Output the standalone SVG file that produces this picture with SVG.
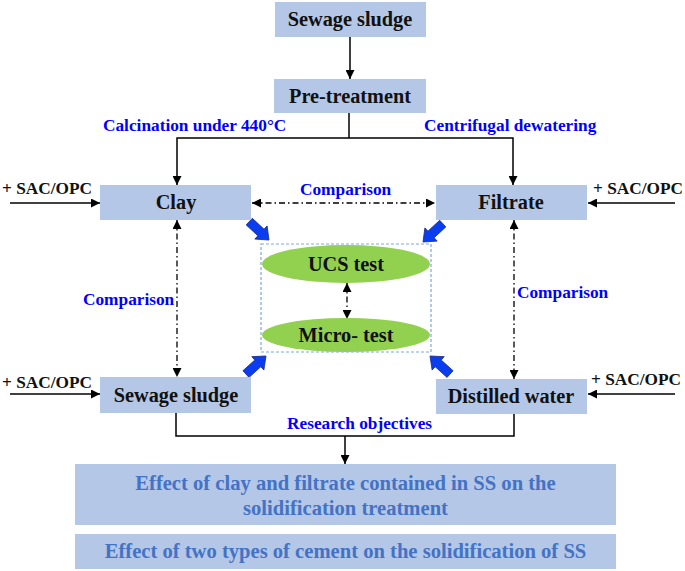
<svg xmlns="http://www.w3.org/2000/svg" xmlns:xlink="http://www.w3.org/1999/xlink" width="685" height="571" viewBox="0 0 685 571">
<style>
.box{fill:#B4C7E7;}
text{font-family:'Liberation Serif','DejaVu Serif',serif;font-weight:700;}
.t{font-size:20.3px;fill:#111;text-anchor:middle;}
.s{font-size:17.3px;fill:#111;}
.b{font-size:17.3px;fill:#0000FF;}
.o{font-size:20.6px;fill:#4472C4;text-anchor:middle;}
.ln{fill:none;stroke:#000;stroke-width:1.5;}
.dd{fill:none;stroke:#000;stroke-width:1.3;stroke-dasharray:6 3 1.5 3;}
.ell{fill:#92D050;}
.blk{fill:#0A3CF0;stroke:#1B2E8C;stroke-width:0.8;}
</style>
<defs>
<marker id="ah" viewBox="0 0 10 10" refX="10" refY="5" markerWidth="9" markerHeight="9" markerUnits="userSpaceOnUse" orient="auto-start-reverse">
<path d="M0,0 L10,5 L0,10 z" fill="#000"/>
</marker>
<path id="barrow" d="M0,0 L-11,-9 L-11,-4.5 L-27,-4.5 L-27,4.5 L-11,4.5 L-11,9 Z"/>
</defs>

<g id="connectors">
<path class="ln" d="M350,37 V79" marker-end="url(#ah)"/>
<path class="ln" d="M349,113 V138"/>
<path class="ln" d="M177,185 V138 H513 V185" marker-start="url(#ah)" marker-end="url(#ah)"/>
<path class="ln" d="M10,203 H100" marker-end="url(#ah)"/>
<path class="ln" d="M675,203 H588" marker-end="url(#ah)"/>
<path class="ln" d="M10,394 H100" marker-end="url(#ah)"/>
<path class="ln" d="M675,394 H588" marker-end="url(#ah)"/>
<path class="ln" d="M176,413 V436 H514 V414"/>
<path class="ln" d="M345,436 V464" marker-end="url(#ah)"/>
<path class="dd" d="M252,203 H435" marker-start="url(#ah)" marker-end="url(#ah)"/>
<path class="dd" d="M177,220 V377" marker-start="url(#ah)" marker-end="url(#ah)"/>
<path class="dd" d="M514,220 V379" marker-start="url(#ah)" marker-end="url(#ah)"/>
<path class="dd" d="M347,283 V319" marker-start="url(#ah)" marker-end="url(#ah)"/>
<use xlink:href="#barrow" class="blk" transform="translate(269,240) rotate(43)"/>
<use xlink:href="#barrow" class="blk" transform="translate(423,242) rotate(137)"/>
<use xlink:href="#barrow" class="blk" transform="translate(266,356) rotate(-42)"/>
<use xlink:href="#barrow" class="blk" transform="translate(430,356) rotate(-138)"/>
</g>

<g id="labels">
<text class="b" x="103" y="131">Calcination under 440°C</text>
<text class="b" x="424" y="131">Centrifugal dewatering</text>
<text class="b" x="300" y="195">Comparison</text>
<text class="b" x="83" y="305">Comparison</text>
<text class="b" x="517" y="298">Comparison</text>
<text class="b" x="287" y="429">Research objectives</text>
<text class="s" x="2" y="194">+ SAC/OPC</text>
<text class="s" x="593" y="194">+ SAC/OPC</text>
<text class="s" x="2" y="388">+ SAC/OPC</text>
<text class="s" x="591" y="385">+ SAC/OPC</text>
</g>

<g id="n-sewage-top">
<rect class="box" x="275" y="2" width="151" height="35"/>
<text class="t" x="350" y="26">Sewage sludge</text>
</g>
<g id="n-pretreatment">
<rect class="box" x="274" y="79" width="152" height="34"/>
<text class="t" x="350" y="103">Pre-treatment</text>
</g>
<g id="n-clay">
<rect class="box" x="100" y="185" width="151" height="35"/>
<text class="t" x="176" y="209">Clay</text>
</g>
<g id="n-filtrate">
<rect class="box" x="436" y="185" width="151" height="35"/>
<text class="t" x="511" y="209">Filtrate</text>
</g>
<g id="n-sewage-bottom">
<rect class="box" x="100" y="377" width="151" height="36"/>
<text class="t" x="176" y="402">Sewage sludge</text>
</g>
<g id="n-distilled">
<rect class="box" x="436" y="379" width="151" height="35"/>
<text class="t" x="511" y="403">Distilled water</text>
</g>
<g id="n-tests">
<rect x="261" y="244" width="170" height="108" fill="none" stroke="#7FA7DC" stroke-width="1.2" stroke-dasharray="3 2"/>
<ellipse class="ell" cx="346" cy="264" rx="84" ry="19"/>
<text class="t" x="346" y="271">UCS test</text>
<ellipse class="ell" cx="346" cy="335" rx="84" ry="17"/>
<text class="t" x="346" y="342">Micro- test</text>
</g>
<g id="n-objective1">
<rect class="box" x="75" y="464" width="541" height="61"/>
<text class="o" x="345.5" y="490">Effect of clay and filtrate contained in SS on the</text>
<text class="o" x="345.5" y="515">solidification treatment</text>
</g>
<g id="n-objective2">
<rect class="box" x="75" y="534" width="541" height="35"/>
<text class="o" x="345.5" y="558">Effect of two types of cement on the solidification of SS</text>
</g>
</svg>
